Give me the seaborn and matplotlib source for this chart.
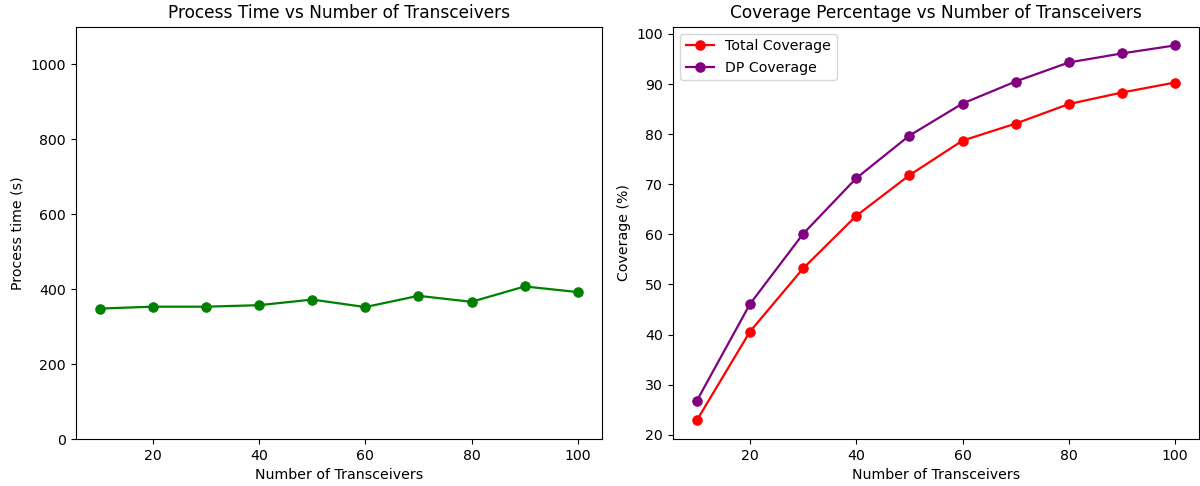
import matplotlib
matplotlib.use("Agg")
import matplotlib.pyplot as plt
import seaborn as sns
import pandas as pd

transceivers = [10, 20, 30, 40, 50, 60, 70, 80, 90, 100]
process_time = [348, 353, 353, 357, 372, 352, 382, 366, 407, 392]
total_coverage = [22.9, 40.6, 53.2, 63.7, 71.8, 78.7, 82.1, 86.0, 88.3, 90.3]
dp_coverage = [26.8, 46.1, 60.1, 71.2, 79.7, 86.1, 90.5, 94.3, 96.1, 97.7]

df = pd.DataFrame({"n": transceivers, "pt": process_time,
                   "total": total_coverage, "dp": dp_coverage})

plt.rcParams["font.size"] = 10.2
fig = plt.figure(figsize=(12, 4.86), dpi=100)
ax1 = fig.add_axes([0.0631, 0.0967, 0.4383, 0.8484])
ax2 = fig.add_axes([0.5608, 0.0967, 0.4383, 0.8484])

sns.lineplot(data=df, x="n", y="pt", marker="o", color="green", ax=ax1,
             markersize=6.8, markeredgecolor="green", linewidth=1.6)
ax1.set_ylim(0, 1100)
ax1.set_title("Process Time vs Number of Transceivers")
ax1.set_xlabel("Number of Transceivers")
ax1.set_ylabel("Process time (s)")

sns.lineplot(data=df, x="n", y="total", marker="o", color="red", ax=ax2,
             markersize=6.8, markeredgecolor="red", linewidth=1.6, label="Total Coverage")
sns.lineplot(data=df, x="n", y="dp", marker="o", color="purple", ax=ax2,
             markersize=6.8, markeredgecolor="purple", linewidth=1.6, label="DP Coverage")
ax2.set_title("Coverage Percentage vs Number of Transceivers")
ax2.set_xlabel("Number of Transceivers")
ax2.set_ylabel("Coverage (%)")
ax2.legend(loc="upper left")

fig.savefig("out.png", dpi=100)
